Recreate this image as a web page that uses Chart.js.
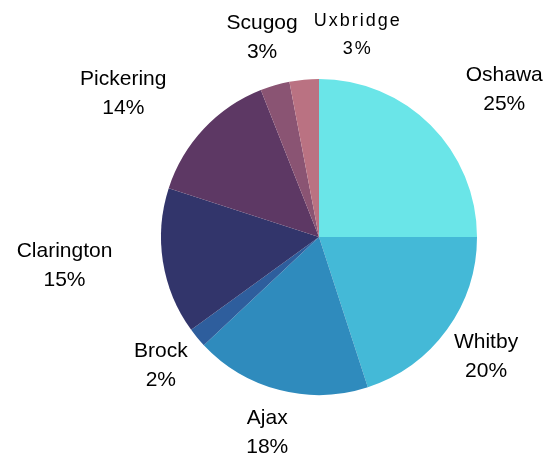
<!DOCTYPE html>
<html>
<head>
<meta charset="utf-8">
<script src="https://cdn.jsdelivr.net/npm/chart.js@4"></script>
<style>
  html, body { margin: 0; padding: 0; background: #fff; }
  #wrap { width: 552px; height: 458px; }
</style>
</head>
<body>
<div id="wrap"><canvas id="pie"></canvas></div>
<script>
const towns = ['Oshawa', 'Whitby', 'Ajax', 'Brock', 'Clarington', 'Pickering', 'Scugog', 'Uxbridge'];
const shares = [25, 20, 18, 2, 15, 14, 3, 3];

const colors = ['#6ae5e8', '#44b9d7', '#2f8bbd', '#2e5e9d', '#32356b', '#5d3864', '#8a5473', '#ba7282'];

// small nudges so labels sit where the original put them (px)
const labelNudge = {
    Oshawa: [41, -4],
    Whitby: [2, -1],
    Ajax: [-1, -2],
    Brock: [-1, -2],
    Clarington: [-53, -4],
    Pickering: [-47, -4],
    Scugog: [0, -4],
    Uxbridge: [58, 1]
};

const outsideLabels = {
    id: 'outsideLabels',
    afterDatasetsDraw(chart) {
        const c = chart.ctx;
        const meta = chart.getDatasetMeta(0);
        meta.data.forEach((arc, i) => {
            const p = arc.getProps(['x', 'y', 'startAngle', 'endAngle', 'outerRadius'], true);
            const mid = (p.startAngle + p.endAngle) / 2;
            const dist = p.outerRadius + 46;
            const name = towns[i];
            const nudge = labelNudge[name] || [0, 0];
            const x = p.x + Math.cos(mid) * dist + nudge[0];
            const y = p.y + Math.sin(mid) * dist + nudge[1];
            c.save();
            c.fillStyle = '#000';
            c.textAlign = 'center';
            c.textBaseline = 'middle';
            if (name === 'Uxbridge') {
                c.font = '18px "Liberation Sans", Arial, sans-serif';
                c.letterSpacing = '2px';
                c.fillText(name, x, y - 14);
                c.fillText(shares[i] + '%', x, y + 14);
            } else {
                c.font = '21px "Liberation Sans", Arial, sans-serif';
                c.fillText(name, x, y - 14);
                c.fillText(shares[i] + '%', x, y + 15);
            }
            c.restore();
        });
    }
};

new Chart(document.getElementById('pie'), {
    type: 'pie',
    data: {
        labels: towns,
        datasets: [{
            data: shares,
            backgroundColor: colors,
            borderWidth: 0
        }]
    },
    options: {
        responsive: true,
        maintainAspectRatio: false,
        animation: false,
        layout: {
            padding: { top: 79, bottom: 63, left: 120, right: 34 }
        },
        plugins: {
            legend: { display: false },
            tooltip: { enabled: false }
        }
    },
    plugins: [outsideLabels]
});
</script>
</body>
</html>
